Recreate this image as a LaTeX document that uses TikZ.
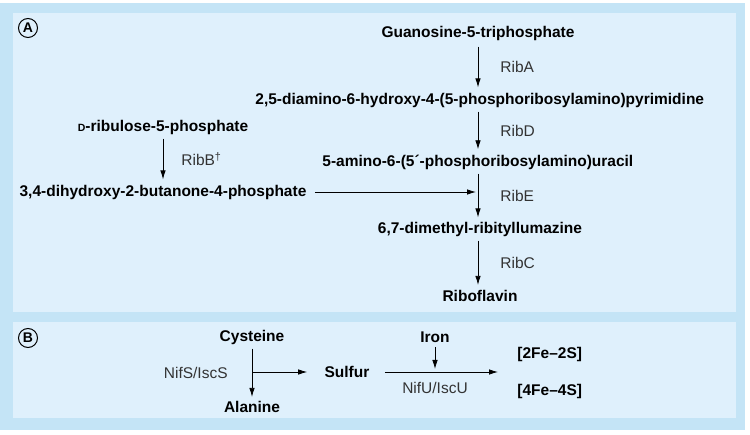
\documentclass[tikz,border=0pt]{standalone}
\usepackage{fontspec}
\setmainfont{Liberation Sans}
\usetikzlibrary{arrows.meta}
\definecolor{frameblue}{RGB}{196,228,246}
\definecolor{panelblue}{RGB}{223,240,252}

\begin{document}
\begin{tikzpicture}[x=1pt,y=-1pt,->,>={Latex[length=9pt,width=5.5pt]},line width=0.8pt]
    \tikzstyle{mol}=[font=\fontsize{15.5}{18}\selectfont\bfseries,inner sep=3pt]
    \tikzstyle{enz}=[font=\fontsize{15.5}{18}\selectfont,inner sep=2pt,text=black!80]
    \tikzstyle{tag}=[draw,circle,line width=1pt,inner sep=0pt,minimum size=19pt,font=\fontsize{14}{14}\selectfont\bfseries]
    % panels
    \useasboundingbox (0,0) rectangle (750,435);
    \fill[frameblue] (0,3) rectangle (745,430);
    \fill[panelblue] (13,13) rectangle (736,312);
    \fill[panelblue] (13,322) rectangle (736,418);
    % A: riboflavin pathway
    \node[tag]             (tagA) at (28,28)   {A};
    \coordinate            (axis) at (478,0);
    \node[mol]             (gtp)  at (478,33)  {Guanosine-5-triphosphate};
    \node[mol,anchor=west] (pyr)  at (252,100) {2,5-diamino-6-hydroxy-4-(5-phosphoribosylamino)pyrimidine};
    \node[mol,anchor=west] (aru)  at (319,162) {5-amino-6-(5´-phosphoribosylamino)uracil};
    \node[mol]             (lum)  at (480,229) {6,7-dimethyl-ribityllumazine};
    \node[mol]             (rbf)  at (480,296) {Riboflavin};
    \node[mol]             (ru5p) at (163,127) {{\fontsize{10.5}{10}\selectfont D}-ribulose-5-phosphate};
    \node[mol]             (dhbp) at (163,192) {3,4-dihydroxy-2-butanone-4-phosphate};
    \draw[shorten <=3pt,shorten >=2pt] (gtp.south -| axis) -- (pyr.north -| axis)
        node[midway,enz,right=20pt] (ribA) {RibA};
    \draw[shorten <=1pt,shorten >=2pt] (pyr.south -| axis) -- (aru.north -| axis)
        node[midway,enz,right=20pt] (ribD) {RibD};
    \draw[shorten <=1pt,shorten >=1pt] (aru.south -| axis) -- (lum.north -| axis)
        node[midway,enz,right=20pt] (ribE) {RibE};
    \draw[shorten <=1pt,shorten >=2pt] (lum.south -| axis) -- (rbf.north -| axis)
        node[midway,enz,right=20pt] (ribC) {RibC};
    \draw[shorten <=1pt,shorten >=2pt] (ru5p.south -| dhbp) -- (dhbp.north)
        node[midway,enz,right=16pt] (ribB) {RibB\textsuperscript{\textdagger}};
    \draw[shorten <=5pt,shorten >=2pt] (dhbp.east) -- (dhbp.east -| axis);
    % B: Fe-S cluster assembly
    \node[tag]             (tagB) at (28,338)  {B};
    \node[mol]             (cys)  at (252,337) {Cysteine};
    \node[mol]             (ala)  at (252,407) {Alanine};
    \node[mol]             (sul)  at (347,372) {Sulfur};
    \node[mol]             (fe)   at (435,337) {Iron};
    \node[mol,anchor=west] (fe2s) at (514,354) {[2Fe–2S]};
    \node[mol,anchor=west] (fe4s) at (514,391) {[4Fe–4S]};
    \node[enz]             (nifu) at (435,388) {NifU/IscU};
    \coordinate            (fork) at (252,372);
    \coordinate            (clu)  at (498,372);
    \draw[shorten <=1pt,shorten >=1pt] (cys) -- (ala)
        node[midway,enz,left=22pt] (nifs) {NifS/IscS};
    \draw[shorten >=14pt] (fork) -- (sul.west);
    \draw[shorten <=12pt] (sul.east) -- (clu);
    \draw[shorten <=1pt,shorten >=3pt] (fe) -- (fe |- clu);
\end{tikzpicture}
\end{document}
